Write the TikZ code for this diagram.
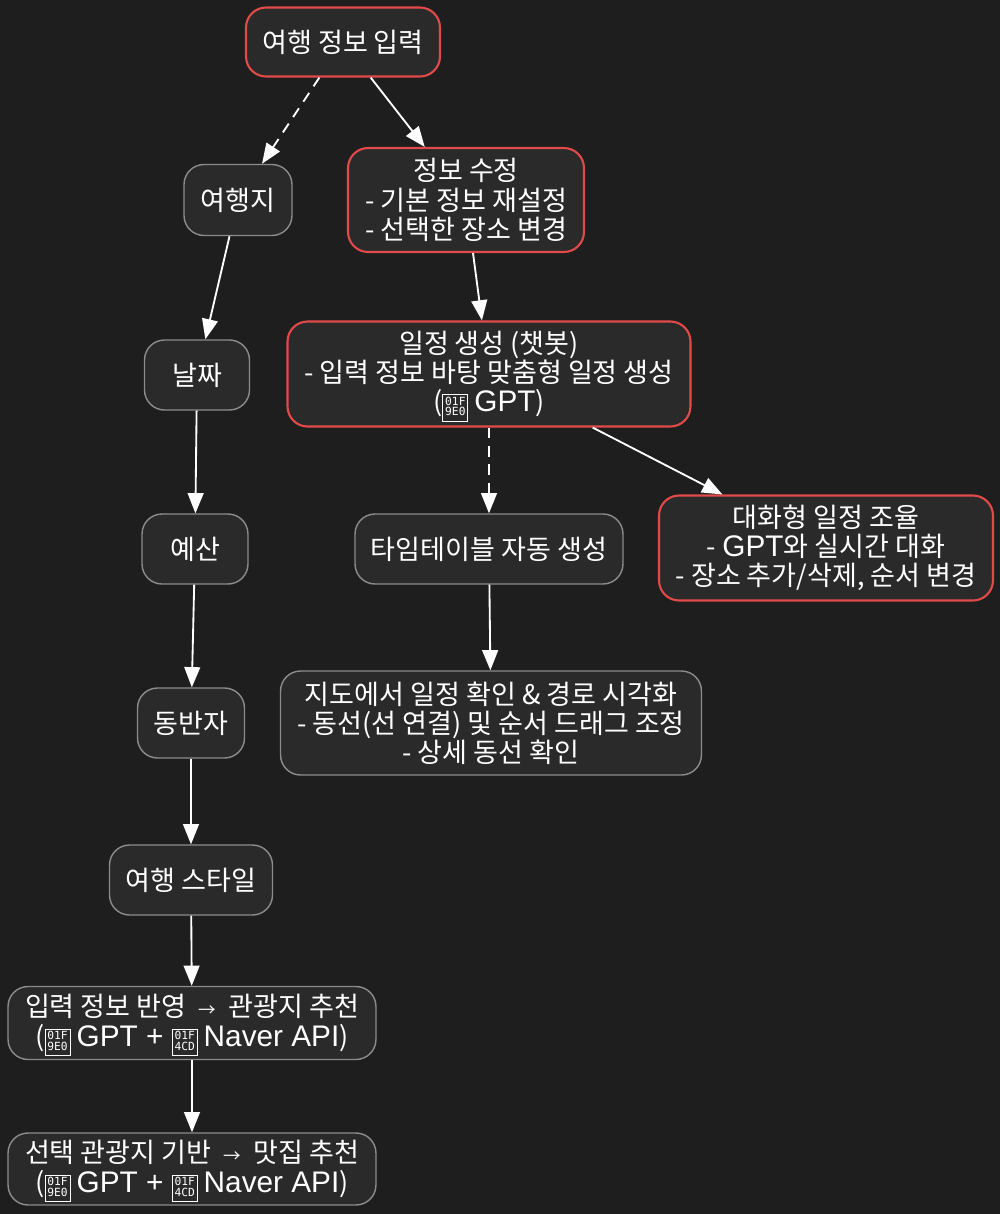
\documentclass[tikz,border=0pt]{standalone}
\usepackage{fontspec}
\setmainfont{Noto Sans CJK KR}
\newfontfamily\latfont[Scale=1.1]{Liberation Sans}
\newfontfamily\hexfont{DejaVu Sans Mono}
\usetikzlibrary{arrows.meta}
\definecolor{bgdark}{HTML}{1E1E1E}
\definecolor{boxfill}{HTML}{2A2A2A}
\definecolor{boxline}{HTML}{8C8C8C}
\definecolor{hotline}{HTML}{E24A4A}
\newcommand{\lat}[1]{{\latfont #1}}
\newcommand{\tofu}[2]{\smash{\raisebox{0.6pt}{\setlength\fboxsep{1pt}\setlength\fboxrule{0.6pt}\fbox{\fontsize{6.4pt}{6.4pt}\selectfont\hexfont\begin{tabular}{@{}c@{}}#1\\[-0.8pt]#2\end{tabular}}}}}
\newcommand{\toarr}{\hspace{0.45em}{\fontsize{10pt}{10pt}\selectfont →}\hspace{0.45em}}
\tikzset{
    box/.style={draw=boxline, line width=0.8pt, fill=boxfill, rounded corners=0.4cm,
        text=white, align=center, inner sep=2pt,
        font=\fontsize{15.4pt}{16.6pt}\selectfont},
    hot/.style={box, draw=hotline, line width=1.2pt},
    flow/.style={draw=white, line width=1.05pt, -{Triangle[length=11.5pt, width=9pt]}},
    dflow/.style={flow, dash pattern=on 6pt off 4.5pt}
}
\begin{document}
\begin{tikzpicture}[x=0.02cm, y=-0.02cm]
    \fill[bgdark] (0,0) rectangle (1000,1214);
    \useasboundingbox (0,0) rectangle (1000,1214);

    \node[hot, minimum width=3.88cm, minimum height=1.38cm] (inform)    at (343, 42)   {여행 정보 입력};
    \node[box, minimum width=2.16cm, minimum height=1.42cm] (dest)      at (238, 200)  {여행지};
    \node[hot, minimum width=4.72cm, minimum height=2.08cm] (edit)      at (466, 200)  {정보 수정\\- 기본 정보 재설정\\- 선택한 장소 변경};
    \node[box, minimum width=2.10cm, minimum height=1.40cm] (dates)     at (197, 375)  {날짜};
    \node[hot, minimum width=8.06cm, minimum height=2.10cm] (plan)      at (489, 374)  {일정 생성 (챗봇)\\- 입력 정보 바탕 맞춤형 일정 생성\\(\tofu{01F}{9E0} \lat{GPT})};
    \node[box, minimum width=2.12cm, minimum height=1.40cm] (budget)    at (195, 549)  {예산};
    \node[box, minimum width=5.36cm, minimum height=1.40cm] (timetable) at (489, 549)  {타임테이블 자동 생성};
    \node[hot, minimum width=6.68cm, minimum height=2.10cm] (chat)      at (826, 548)  {대화형 일정 조율\\- \lat{GPT}와 실시간 대화\\- 장소 추가/삭제, 순서 변경};
    \node[box, minimum width=2.14cm, minimum height=1.40cm] (company)   at (191, 723)  {동반자};
    \node[box, minimum width=8.42cm, minimum height=2.08cm] (mapview)   at (491, 723)  {지도에서 일정 확인 \& 경로 시각화\\- 동선(선 연결) 및 순서 드래그 조정\\- 상세 동선 확인};
    \node[box, minimum width=3.26cm, minimum height=1.40cm] (tstyle)    at (191, 880)  {여행 스타일};
    \node[box, minimum width=7.36cm, minimum height=1.46cm] (spots)     at (192, 1023) {입력 정보 반영\toarr 관광지 추천\\(\tofu{01F}{9E0} \lat{GPT + }\tofu{01F}{4CD} \lat{Naver API})};
    \node[box, minimum width=7.36cm, minimum height=1.44cm] (food)      at (192, 1169) {선택 관광지 기반\toarr 맛집 추천\\(\tofu{01F}{9E0} \lat{GPT + }\tofu{01F}{4CD} \lat{Naver API})};

    \draw[dflow] (inform) -- (dest);
    \draw[flow]  (inform) -- (edit);
    \draw[flow]  (dest) -- (dates);
    \draw[flow]  (edit) -- (plan);
    \draw[flow]  (dates) -- (budget);
    \draw[dflow] (plan) -- (timetable);
    \draw[flow]  (plan) -- (chat);
    \draw[flow]  (budget) -- (company);
    \draw[flow]  (timetable) -- (mapview);
    \draw[flow]  (company) -- (tstyle);
    \draw[flow]  (tstyle) -- (spots);
    \draw[flow]  (spots) -- (food);
\end{tikzpicture}
\end{document}
